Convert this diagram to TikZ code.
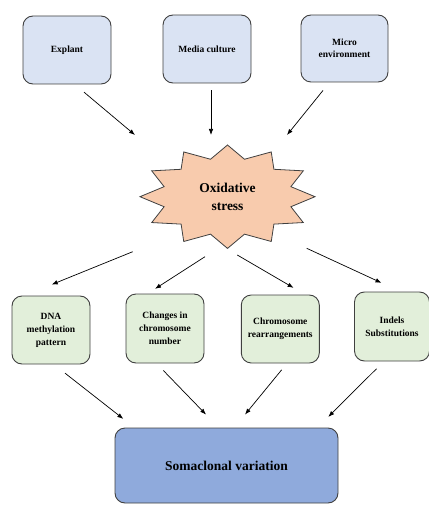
\documentclass[tikz,border=0pt]{standalone}
\usepackage{fontspec}
\setmainfont{Liberation Serif}
\usetikzlibrary{arrows.meta,calc}
\definecolor{topfill}{HTML}{DAE3F3}
\definecolor{midfill}{HTML}{E2EFDA}
\definecolor{starfill}{HTML}{F8CBAD}
\definecolor{botfill}{HTML}{8FAADC}
\definecolor{edge}{HTML}{404040}
\tikzset{
  box/.style={draw=edge, line width=0.9pt, rounded corners=10pt, inner sep=0pt, align=center, font=\fontsize{9.5}{12.5}\selectfont\bfseries},
  topbox/.style={box, fill=topfill, minimum width=88pt, minimum height=68pt},
  midbox/.style={box, fill=midfill, minimum width=78pt, minimum height=68pt, font=\fontsize{9.5}{13}\selectfont\bfseries},
  arr/.style={draw=black, line width=0.7pt, -{Latex[length=6pt,width=4.5pt]}}
}
\begin{document}
\begin{tikzpicture}[x=1pt,y=-1pt]
\useasboundingbox (0,0) rectangle (428,505);
% top boxes
\node[topbox] (explant) at (67,50) {Explant};
\node[topbox] (media) at (207,49) {Media culture};
\node[topbox, minimum width=87pt, minimum height=67pt] (micro) at (344.5,48.5) {Micro\\environment};
% star
\draw[draw=edge, line width=0.8pt, fill=starfill, shift={(227.5,196.7)}]
  (0,-51.7) \foreach \i in {1,...,23}{
    -- ({87.5*(1-0.25*mod(\i,2))*cos(90+15*\i)}, {-51.7*(1-0.25*mod(\i,2))*sin(90+15*\i)})
  } -- cycle;
\node[align=center, font=\fontsize{13.5}{18}\selectfont\bfseries, inner sep=0pt] (star) at (227.5,196.7) {Oxidative\\stress};
% middle boxes
\node[midbox] (dna) at (51,330) {DNA\\methylation\\pattern};
\node[midbox, minimum height=69pt] (changes) at (165,328.5) {Changes in\\chromosome\\number};
\node[midbox] (chrom) at (280.3,329) {Chromosome\\rearrangements};
\node[midbox, minimum width=75pt, minimum height=69pt] (indels) at (392,326.5) {Indels\\Substitutions};
% bottom box
\node[box, fill=botfill, minimum width=223pt, minimum height=75pt, font=\fontsize{13.5}{16}\selectfont\bfseries] (som) at (226.5,465.5) {Somaclonal variation};
% arrows top -> star
\draw[arr] ([shift={(17,7.7)}]explant.south) -- ([shift={(-92.5,-61.7)}]star.center);
\draw[arr] ([shift={(4,7)}]media.south) -- ([shift={(-16.5,-61.7)}]star.center);
\draw[arr] ([shift={(-21.5,8)}]micro.south) -- ([shift={(59.5,-61.7)}]star.center);
% arrows star -> middle
\draw[arr] ([shift={(-94.8,55)}]star.center) -- ([shift={(0.7,-11)}]dna.north);
\draw[arr] ([shift={(-22.5,60)}]star.center) -- ([shift={(-10,-4.7)}]changes.north);
\draw[arr] ([shift={(9.8,58.3)}]star.center) -- ([shift={(13.3,-6.7)}]chrom.north);
\draw[arr] ([shift={(79.2,51.6)}]star.center) -- ([shift={(-10.5,-8.7)}]indels.north);
% arrows middle -> bottom
\draw[arr] ([shift={(14,8.7)}]dna.south) -- ([shift={(-103.2,-8.7)}]som.north);
\draw[arr] ([shift={(-1.7,7)}]changes.south) -- ([shift={(-20.5,-13)}]som.north);
\draw[arr] ([shift={(1.4,6.3)}]chrom.south) -- ([shift={(18.5,-13)}]som.north);
\draw[arr] ([shift={(-15.5,7.3)}]indels.south) -- ([shift={(101.8,-10.7)}]som.north);
\end{tikzpicture}
\end{document}
